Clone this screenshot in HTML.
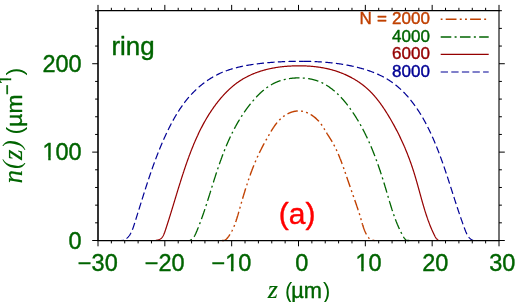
<!DOCTYPE html>
<html><head><meta charset="utf-8"><title>n(z) ring</title>
<style>
html,body{margin:0;padding:0;background:#fff;}
body{width:529px;height:302px;overflow:hidden;}
svg{display:block;will-change:transform;}
text{font-family:"Liberation Sans",sans-serif;stroke-width:0.4px;stroke-linejoin:round;}
.it{font-family:"Liberation Serif",serif;font-style:italic;}
</style></head><body>
<svg width="529" height="302" viewBox="0 0 529 302">
<rect x="0" y="0" width="529" height="302" fill="#fff"/>
<g fill="none" stroke-width="1.40" stroke-linejoin="round">
<path d="M221.19 240.50 L221.59 240.50 L221.97 240.50 L222.36 240.50 L222.73 240.50 L223.10 240.50 L223.45 240.50 L223.80 240.50 L224.13 240.43 L224.46 240.31 L224.77 240.17 L225.07 240.01 L225.36 239.84 L225.64 239.65 L225.90 239.45 L226.16 239.23 L226.42 239.00 L226.66 238.76 L226.90 238.52 L227.13 238.26 L227.36 238.00 L227.58 237.74 L227.79 237.46 L228.01 237.19 L228.22 236.91 L228.43 236.63 L228.64 236.35 L228.84 236.07 L229.04 235.79 L229.24 235.50 L229.43 235.21 L229.63 234.92 L229.82 234.62 L230.01 234.33 L230.19 234.03 L230.37 233.73 L230.56 233.43 L230.73 233.13 L230.91 232.82 L231.09 232.52 L231.26 232.21 L231.43 231.90 L231.60 231.59 L231.76 231.28 L231.93 230.96 L232.09 230.64 L232.25 230.33 L232.40 230.01 L232.56 229.69 L232.71 229.36 L232.87 229.04 L233.02 228.71 L233.17 228.39 L233.31 228.06 L233.46 227.73 L233.60 227.40 L233.74 227.07 L233.88 226.73 L234.02 226.40 L234.16 226.06 L234.29 225.72 L234.43 225.39 L234.56 225.05 L234.69 224.71 L234.82 224.36 L234.95 224.02 L235.08 223.68 L235.20 223.33 L235.33 222.99 L235.45 222.64 L235.57 222.30 L235.69 221.95 L235.81 221.60 L235.93 221.25 L236.05 220.90 L236.16 220.55 L236.28 220.19 L236.40 219.84 L236.51 219.49 L236.62 219.13 L236.73 218.78 L236.85 218.43 L236.96 218.07 L237.07 217.71 L237.18 217.36 L237.28 217.00 L237.39 216.64 L237.50 216.28 L237.61 215.93 L237.71 215.57 L237.82 215.21 L237.92 214.85 L238.03 214.49 L238.13 214.13 L238.24 213.77 L238.34 213.41 L238.44 213.05 L238.55 212.69 L238.65 212.33 L238.75 211.97 L238.85 211.61 L238.96 211.25 L239.06 210.89 L239.16 210.53 L239.26 210.17 L239.37 209.81 L239.47 209.45 L239.57 209.09 L239.67 208.73 L239.77 208.37 L239.88 208.01 L239.98 207.65 L240.08 207.29 L240.18 206.93 L240.29 206.57 L240.39 206.21 L240.49 205.85 L240.59 205.50 L240.70 205.14 L240.80 204.78 L240.90 204.42 L241.01 204.06 L241.11 203.70 L241.21 203.35 L241.31 202.99 L241.42 202.63 L241.52 202.27 L241.63 201.92 L241.73 201.56 L241.83 201.20 L241.94 200.85 L242.04 200.49 L242.14 200.13 L242.25 199.78 L242.35 199.42 L242.46 199.07 L242.56 198.71 L242.67 198.35 L242.77 198.00 L242.88 197.64 L242.98 197.29 L243.09 196.93 L243.19 196.58 L243.30 196.22 L243.40 195.87 L243.51 195.51 L243.62 195.16 L243.72 194.80 L243.83 194.45 L243.94 194.10 L244.04 193.74 L244.15 193.39 L244.26 193.04 L244.36 192.68 L244.47 192.33 L244.58 191.98 L244.69 191.62 L244.80 191.27 L244.90 190.92 L245.01 190.57 L245.12 190.21 L245.23 189.86 L245.34 189.51 L245.45 189.16 L245.56 188.81 L245.67 188.46 L245.78 188.11 L245.89 187.75 L246.00 187.40 L246.11 187.05 L246.23 186.70 L246.34 186.35 L246.45 186.00 L246.56 185.65 L246.67 185.30 L246.79 184.95 L246.90 184.60 L247.01 184.25 L247.13 183.91 L247.24 183.56 L247.36 183.21 L247.47 182.86 L247.59 182.51 L247.70 182.16 L247.82 181.82 L247.93 181.47 L248.05 181.12 L248.17 180.77 L248.28 180.43 L248.40 180.08 L248.52 179.73 L248.64 179.39 L248.76 179.04 L248.87 178.69 L248.99 178.35 L249.11 178.00 L249.23 177.66 L249.35 177.31 L249.47 176.97 L249.59 176.62 L249.72 176.28 L249.84 175.93 L249.96 175.59 L250.08 175.24 L250.21 174.90 L250.33 174.56 L250.45 174.21 L250.58 173.87 L250.70 173.53 L250.83 173.18 L250.95 172.84 L251.08 172.50 L251.21 172.15 L251.33 171.81 L251.46 171.47 L251.59 171.13 L251.72 170.79 L251.84 170.45 L251.97 170.10 L252.10 169.76 L252.23 169.42 L252.36 169.08 L252.49 168.74 L252.63 168.40 L252.76 168.06 L252.89 167.72 L253.02 167.38 L253.16 167.04 L253.29 166.71 L253.43 166.37 L253.56 166.03 L253.70 165.69 L253.83 165.35 L253.97 165.01 L254.11 164.68 L254.24 164.34 L254.38 164.00 L254.52 163.67 L254.66 163.33 L254.80 162.99 L254.94 162.66 L255.08 162.32 L255.22 161.98 L255.36 161.65 L255.51 161.31 L255.65 160.98 L255.79 160.64 L255.94 160.31 L256.08 159.97 L256.23 159.64 L256.37 159.31 L256.52 158.97 L256.67 158.64 L256.81 158.31 L256.96 157.97 L257.11 157.64 L257.26 157.31 L257.41 156.98 L257.56 156.64 L257.71 156.31 L257.87 155.98 L258.02 155.65 L258.17 155.32 L258.33 154.99 L258.48 154.66 L258.64 154.33 L258.79 154.00 L258.95 153.67 L259.11 153.34 L259.26 153.01 L259.42 152.68 L259.58 152.35 L259.74 152.02 L259.90 151.69 L260.06 151.37 L260.22 151.04 L260.39 150.71 L260.55 150.38 L260.71 150.06 L260.88 149.73 L261.04 149.40 L261.21 149.08 L261.37 148.75 L261.54 148.43 L261.71 148.10 L261.88 147.77 L262.04 147.45 L262.21 147.12 L262.38 146.80 L262.55 146.47 L262.72 146.15 L262.89 145.83 L263.07 145.50 L263.24 145.18 L263.41 144.85 L263.58 144.53 L263.76 144.21 L263.93 143.88 L264.11 143.56 L264.28 143.24 L264.46 142.92 L264.63 142.59 L264.81 142.27 L264.99 141.95 L265.16 141.63 L265.34 141.30 L265.52 140.98 L265.70 140.66 L265.88 140.34 L266.06 140.02 L266.24 139.70 L266.42 139.38 L266.60 139.06 L266.78 138.73 L266.96 138.41 L267.14 138.09 L267.32 137.77 L267.51 137.45 L267.69 137.13 L267.87 136.81 L268.06 136.49 L268.24 136.17 L268.42 135.85 L268.61 135.53 L268.79 135.22 L268.98 134.90 L269.16 134.58 L269.35 134.26 L269.54 133.94 L269.72 133.62 L269.91 133.30 L270.10 132.98 L270.28 132.66 L270.47 132.35 L270.66 132.03 L270.85 131.71 L271.04 131.39 L271.23 131.08 L271.42 130.76 L271.61 130.45 L271.81 130.13 L272.00 129.82 L272.19 129.50 L272.39 129.19 L272.59 128.88 L272.78 128.57 L272.98 128.26 L273.18 127.95 L273.38 127.64 L273.59 127.34 L273.79 127.03 L274.00 126.73 L274.20 126.42 L274.41 126.12 L274.62 125.82 L274.83 125.52 L275.05 125.22 L275.26 124.93 L275.48 124.63 L275.70 124.34 L275.92 124.05 L276.14 123.76 L276.36 123.47 L276.59 123.18 L276.82 122.90 L277.05 122.62 L277.28 122.33 L277.51 122.06 L277.75 121.78 L277.99 121.50 L278.23 121.23 L278.47 120.96 L278.72 120.69 L278.97 120.43 L279.22 120.16 L279.47 119.90 L279.73 119.64 L279.99 119.38 L280.25 119.13 L280.52 118.88 L280.78 118.63 L281.05 118.38 L281.33 118.14 L281.60 117.90 L281.88 117.66 L282.17 117.43 L282.45 117.19 L282.74 116.96 L283.03 116.74 L283.33 116.51 L283.63 116.29 L283.93 116.08 L284.23 115.86 L284.54 115.65 L284.85 115.45 L285.17 115.24 L285.48 115.04 L285.80 114.85 L286.12 114.65 L286.45 114.47 L286.78 114.28 L287.10 114.10 L287.44 113.92 L287.77 113.75 L288.10 113.58 L288.44 113.42 L288.78 113.26 L289.12 113.11 L289.47 112.96 L289.81 112.81 L290.16 112.67 L290.50 112.53 L290.85 112.40 L291.20 112.28 L291.56 112.16 L291.91 112.04 L292.26 111.93 L292.62 111.83 L292.98 111.73 L293.33 111.63 L293.69 111.54 L294.05 111.46 L294.41 111.38 L294.77 111.31 L295.13 111.25 L295.49 111.19 L295.85 111.14 L296.21 111.09 L296.57 111.05 L296.93 111.01 L297.30 110.98 L297.66 110.96 L298.02 110.95 L298.38 110.94 L298.74 110.94 L299.10 110.94 L299.46 110.95 L299.82 110.97 L300.18 111.00 L300.53 111.03 L300.89 111.07 L301.25 111.11 L301.60 111.16 L301.96 111.22 L302.31 111.28 L302.67 111.35 L303.02 111.42 L303.37 111.50 L303.72 111.59 L304.07 111.68 L304.42 111.77 L304.77 111.88 L305.11 111.98 L305.46 112.10 L305.80 112.22 L306.15 112.34 L306.49 112.47 L306.83 112.60 L307.17 112.74 L307.50 112.89 L307.84 113.04 L308.17 113.19 L308.51 113.35 L308.84 113.51 L309.17 113.68 L309.49 113.85 L309.82 114.03 L310.14 114.21 L310.47 114.39 L310.79 114.58 L311.11 114.78 L311.42 114.97 L311.74 115.18 L312.05 115.38 L312.36 115.59 L312.67 115.80 L312.97 116.02 L313.28 116.24 L313.58 116.46 L313.88 116.69 L314.18 116.92 L314.47 117.16 L314.76 117.39 L315.05 117.63 L315.34 117.88 L315.62 118.12 L315.91 118.37 L316.19 118.62 L316.46 118.88 L316.74 119.14 L317.01 119.40 L317.28 119.66 L317.54 119.92 L317.80 120.19 L318.06 120.46 L318.32 120.73 L318.58 121.01 L318.83 121.29 L319.07 121.56 L319.32 121.84 L319.56 122.13 L319.80 122.41 L320.03 122.70 L320.26 122.98 L320.49 123.27 L320.72 123.56 L320.94 123.86 L321.15 124.15 L321.37 124.44 L321.58 124.74 L321.79 125.04 L322.00 125.34 L322.20 125.64 L322.40 125.94 L322.60 126.24 L322.80 126.54 L323.00 126.85 L323.19 127.15 L323.38 127.46 L323.58 127.76 L323.77 128.07 L323.95 128.38 L324.14 128.69 L324.33 129.00 L324.51 129.31 L324.70 129.62 L324.88 129.93 L325.07 130.24 L325.25 130.55 L325.44 130.86 L325.62 131.18 L325.81 131.49 L325.99 131.80 L326.18 132.11 L326.36 132.43 L326.55 132.74 L326.74 133.05 L326.92 133.37 L327.11 133.68 L327.31 133.99 L327.50 134.31 L327.69 134.62 L327.89 134.93 L328.08 135.24 L328.28 135.56 L328.48 135.87 L328.68 136.18 L328.88 136.49 L329.08 136.80 L329.28 137.12 L329.47 137.43 L329.67 137.74 L329.87 138.06 L330.07 138.37 L330.27 138.68 L330.47 139.00 L330.66 139.31 L330.86 139.63 L331.05 139.94 L331.25 140.26 L331.44 140.58 L331.63 140.89 L331.82 141.21 L332.01 141.53 L332.19 141.85 L332.38 142.17 L332.56 142.49 L332.74 142.81 L332.92 143.13 L333.10 143.45 L333.28 143.77 L333.46 144.09 L333.63 144.42 L333.81 144.74 L333.98 145.06 L334.15 145.39 L334.32 145.71 L334.49 146.04 L334.66 146.36 L334.83 146.69 L334.99 147.02 L335.16 147.35 L335.32 147.67 L335.48 148.00 L335.64 148.33 L335.80 148.66 L335.96 148.99 L336.12 149.32 L336.28 149.65 L336.44 149.98 L336.59 150.31 L336.74 150.64 L336.90 150.97 L337.05 151.31 L337.20 151.64 L337.35 151.97 L337.50 152.31 L337.65 152.64 L337.80 152.97 L337.94 153.31 L338.09 153.64 L338.23 153.98 L338.38 154.32 L338.52 154.65 L338.66 154.99 L338.80 155.32 L338.94 155.66 L339.08 156.00 L339.22 156.34 L339.36 156.68 L339.50 157.01 L339.64 157.35 L339.77 157.69 L339.91 158.03 L340.04 158.37 L340.18 158.71 L340.31 159.05 L340.45 159.39 L340.58 159.73 L340.71 160.07 L340.84 160.42 L340.97 160.76 L341.10 161.10 L341.23 161.44 L341.36 161.78 L341.49 162.13 L341.62 162.47 L341.75 162.81 L341.87 163.16 L342.00 163.50 L342.13 163.84 L342.25 164.19 L342.38 164.53 L342.50 164.88 L342.63 165.22 L342.75 165.57 L342.88 165.91 L343.00 166.26 L343.13 166.60 L343.25 166.95 L343.37 167.29 L343.50 167.64 L343.62 167.98 L343.74 168.33 L343.86 168.68 L343.98 169.02 L344.11 169.37 L344.23 169.72 L344.35 170.06 L344.47 170.41 L344.59 170.76 L344.71 171.11 L344.83 171.45 L344.95 171.80 L345.07 172.15 L345.19 172.50 L345.31 172.84 L345.43 173.19 L345.56 173.54 L345.68 173.89 L345.80 174.24 L345.92 174.59 L346.04 174.93 L346.16 175.28 L346.28 175.63 L346.40 175.98 L346.52 176.33 L346.64 176.68 L346.76 177.03 L346.88 177.37 L347.00 177.72 L347.12 178.07 L347.24 178.42 L347.36 178.77 L347.48 179.12 L347.59 179.47 L347.71 179.82 L347.83 180.17 L347.95 180.51 L348.07 180.86 L348.19 181.21 L348.31 181.56 L348.43 181.91 L348.55 182.26 L348.67 182.61 L348.79 182.96 L348.91 183.30 L349.03 183.65 L349.15 184.00 L349.27 184.35 L349.39 184.70 L349.51 185.05 L349.63 185.40 L349.75 185.74 L349.87 186.09 L349.99 186.44 L350.11 186.79 L350.23 187.14 L350.35 187.48 L350.47 187.83 L350.59 188.18 L350.71 188.53 L350.83 188.87 L350.96 189.22 L351.08 189.57 L351.20 189.91 L351.32 190.26 L351.44 190.61 L351.56 190.95 L351.68 191.30 L351.80 191.65 L351.92 191.99 L352.04 192.34 L352.17 192.68 L352.29 193.03 L352.41 193.37 L352.53 193.72 L352.65 194.07 L352.77 194.41 L352.89 194.76 L353.02 195.10 L353.14 195.45 L353.26 195.79 L353.38 196.14 L353.50 196.48 L353.62 196.82 L353.74 197.17 L353.87 197.51 L353.99 197.86 L354.11 198.20 L354.23 198.55 L354.35 198.89 L354.47 199.24 L354.59 199.58 L354.71 199.93 L354.83 200.27 L354.95 200.62 L355.07 200.96 L355.19 201.30 L355.31 201.65 L355.43 201.99 L355.55 202.34 L355.67 202.68 L355.79 203.03 L355.91 203.37 L356.03 203.72 L356.15 204.06 L356.27 204.41 L356.39 204.75 L356.51 205.10 L356.62 205.45 L356.74 205.79 L356.86 206.14 L356.98 206.48 L357.09 206.83 L357.21 207.18 L357.33 207.52 L357.44 207.87 L357.56 208.22 L357.67 208.56 L357.79 208.91 L357.90 209.26 L358.02 209.61 L358.13 209.95 L358.25 210.30 L358.36 210.65 L358.47 211.00 L358.59 211.35 L358.70 211.70 L358.81 212.04 L358.92 212.39 L359.04 212.74 L359.15 213.09 L359.26 213.44 L359.37 213.79 L359.48 214.14 L359.59 214.50 L359.70 214.85 L359.81 215.20 L359.91 215.55 L360.02 215.90 L360.13 216.26 L360.23 216.61 L360.34 216.96 L360.45 217.32 L360.55 217.67 L360.66 218.02 L360.76 218.38 L360.86 218.73 L360.97 219.09 L361.07 219.44 L361.17 219.80 L361.28 220.16 L361.38 220.51 L361.48 220.87 L361.58 221.23 L361.68 221.58 L361.79 221.94 L361.89 222.30 L361.99 222.65 L362.10 223.01 L362.20 223.37 L362.30 223.72 L362.41 224.08 L362.52 224.43" stroke="#c04000" stroke-width="1.40" stroke-dasharray="10.8 3.3 1.9 3.3 1.9 3.2" stroke-dashoffset="23.71"/>
<path d="M362.52 224.43 L362.62 224.79 L362.73 225.14 L362.84 225.50 L362.95 225.85 L363.07 226.20 L363.18 226.55 L363.30 226.91 L363.41 227.26 L363.53 227.61 L363.65 227.95 L363.77 228.30 L363.90 228.65 L364.03 229.00 L364.15 229.34 L364.29 229.68 L364.42 230.03 L364.55 230.37 L364.69 230.71 L364.83 231.05 L364.98 231.39 L365.12 231.72 L365.27 232.06 L365.43 232.39 L365.58 232.72 L365.74 233.05 L365.90 233.38 L366.07 233.71 L366.24 234.03 L366.41 234.36 L366.59 234.68 L366.77 235.00 L366.95 235.31 L367.14 235.63 L367.34 235.93 L367.54 236.24 L367.74 236.54 L367.95 236.83 L368.17 237.11 L368.39 237.39 L368.62 237.66 L368.86 237.92 L369.10 238.17 L369.35 238.40 L369.61 238.63 L369.88 238.85 L370.16 239.05 L370.44 239.24 L370.74 239.41 L371.04 239.57 L371.36 239.72 L371.68 239.85 L372.01 239.97 L372.35 240.07 L372.70 240.17 L373.05 240.25 L373.41 240.34 L373.78 240.41 L374.14 240.45 L374.52 240.48 L374.90 240.50 L375.28 240.50 L375.66 240.50" stroke="#c04000" stroke-width="1.40" stroke-dasharray="10.8 3.3 1.9 3.3 1.9 3.2" stroke-dashoffset="0.00"/>
<path d="M187.80 240.50 L188.29 240.50 L188.76 240.50 L189.22 240.50 L189.66 240.40 L190.07 240.25 L190.48 240.03 L190.86 239.82 L191.23 239.60 L191.58 239.36 L191.92 239.10 L192.25 238.83 L192.56 238.54 L192.86 238.23 L193.15 237.91 L193.43 237.57 L193.70 237.22 L193.95 236.86 L194.20 236.49 L194.44 236.10 L194.67 235.71 L194.89 235.31 L195.11 234.90 L195.32 234.48 L195.52 234.06 L195.72 233.63 L195.92 233.20 L196.11 232.76 L196.30 232.32 L196.49 231.88 L196.67 231.43 L196.86 230.99 L197.04 230.54 L197.22 230.10 L197.40 229.65 L197.58 229.21 L197.76 228.76 L197.94 228.32 L198.12 227.87 L198.30 227.43 L198.47 226.98 L198.65 226.53 L198.82 226.09 L198.99 225.64 L199.17 225.19 L199.34 224.75 L199.51 224.30 L199.68 223.85 L199.85 223.40 L200.02 222.96 L200.19 222.51 L200.36 222.06 L200.52 221.61 L200.69 221.16 L200.85 220.71 L201.02 220.26 L201.18 219.81 L201.35 219.36 L201.51 218.91 L201.67 218.47 L201.83 218.02 L201.99 217.57 L202.15 217.11 L202.31 216.66 L202.47 216.21 L202.63 215.76 L202.79 215.31 L202.94 214.86 L203.10 214.41 L203.26 213.96 L203.41 213.51 L203.57 213.06 L203.72 212.60 L203.88 212.15 L204.03 211.70 L204.18 211.25 L204.34 210.80 L204.49 210.34 L204.64 209.89 L204.79 209.44 L204.94 208.99 L205.09 208.53 L205.24 208.08 L205.39 207.63 L205.54 207.17 L205.69 206.72 L205.84 206.27 L205.99 205.81 L206.13 205.36 L206.28 204.91 L206.43 204.45 L206.57 204.00 L206.72 203.55 L206.87 203.09 L207.01 202.64 L207.16 202.18 L207.30 201.73 L207.45 201.28 L207.59 200.82 L207.74 200.37 L207.88 199.91 L208.03 199.46 L208.17 199.01 L208.31 198.55 L208.46 198.10 L208.60 197.64 L208.74 197.19 L208.89 196.73 L209.03 196.28 L209.17 195.82 L209.31 195.37 L209.45 194.91 L209.60 194.46 L209.74 194.00 L209.88 193.55 L210.02 193.10 L210.16 192.64 L210.31 192.19 L210.45 191.73 L210.59 191.28 L210.73 190.82 L210.87 190.37 L211.01 189.91 L211.16 189.46 L211.30 189.00 L211.44 188.55 L211.58 188.09 L211.72 187.64 L211.86 187.18 L212.00 186.73 L212.15 186.27 L212.29 185.82 L212.43 185.37 L212.57 184.91 L212.71 184.46 L212.86 184.00 L213.00 183.55 L213.14 183.09 L213.28 182.64 L213.43 182.19 L213.57 181.73 L213.71 181.28 L213.85 180.82 L214.00 180.37 L214.14 179.92 L214.29 179.46 L214.43 179.01 L214.57 178.55 L214.72 178.10 L214.86 177.65 L215.01 177.19 L215.15 176.74 L215.30 176.29 L215.44 175.83 L215.59 175.38 L215.74 174.93 L215.88 174.48 L216.03 174.02 L216.18 173.57 L216.33 173.12 L216.47 172.67 L216.62 172.21 L216.77 171.76 L216.92 171.31 L217.07 170.86 L217.22 170.40 L217.37 169.95 L217.52 169.50 L217.67 169.05 L217.83 168.60 L217.98 168.15 L218.13 167.70 L218.28 167.25 L218.44 166.80 L218.59 166.35 L218.75 165.90 L218.90 165.45 L219.06 165.00 L219.21 164.55 L219.37 164.10 L219.53 163.65 L219.68 163.20 L219.84 162.75 L220.00 162.30 L220.16 161.85 L220.32 161.40 L220.48 160.96 L220.64 160.51 L220.80 160.06 L220.96 159.61 L221.13 159.17 L221.29 158.72 L221.45 158.27 L221.62 157.83 L221.78 157.38 L221.95 156.93 L222.11 156.49 L222.28 156.04 L222.45 155.60 L222.61 155.15 L222.78 154.71 L222.95 154.26 L223.12 153.82 L223.29 153.38 L223.46 152.93 L223.64 152.49 L223.81 152.05 L223.98 151.61 L224.16 151.16 L224.33 150.72 L224.51 150.28 L224.68 149.84 L224.86 149.40 L225.04 148.96 L225.21 148.52 L225.39 148.08 L225.57 147.64 L225.75 147.20 L225.94 146.76 L226.12 146.33 L226.30 145.89 L226.48 145.45 L226.67 145.01 L226.85 144.58 L227.04 144.14 L227.23 143.70 L227.41 143.27 L227.60 142.83 L227.79 142.40 L227.98 141.97 L228.17 141.53 L228.37 141.10 L228.56 140.67 L228.75 140.23 L228.95 139.80 L229.14 139.37 L229.34 138.94 L229.54 138.51 L229.73 138.08 L229.93 137.65 L230.13 137.22 L230.33 136.79 L230.53 136.36 L230.74 135.93 L230.94 135.51 L231.15 135.08 L231.35 134.65 L231.56 134.23 L231.77 133.80 L231.97 133.38 L232.18 132.95 L232.39 132.53 L232.61 132.11 L232.82 131.68 L233.03 131.26 L233.25 130.84 L233.46 130.42 L233.68 130.00 L233.90 129.58 L234.12 129.16 L234.33 128.74 L234.56 128.32 L234.78 127.90 L235.00 127.48 L235.22 127.07 L235.45 126.65 L235.68 126.24 L235.90 125.82 L236.13 125.41 L236.36 124.99 L236.59 124.58 L236.82 124.17 L237.06 123.75 L237.29 123.34 L237.53 122.93 L237.76 122.52 L238.00 122.11 L238.24 121.70 L238.48 121.30 L238.72 120.89 L238.96 120.48 L239.21 120.08 L239.45 119.67 L239.70 119.26 L239.94 118.86 L240.19 118.46 L240.44 118.05 L240.69 117.65 L240.95 117.25 L241.20 116.85 L241.45 116.45 L241.71 116.05 L241.97 115.65 L242.22 115.25 L242.48 114.85 L242.75 114.46 L243.01 114.06 L243.27 113.67 L243.54 113.27 L243.80 112.88 L244.07 112.48 L244.34 112.09 L244.61 111.70 L244.88 111.31 L245.16 110.92 L245.43 110.53 L245.71 110.14 L245.98 109.75 L246.26 109.37 L246.54 108.98 L246.82 108.59 L247.11 108.21 L247.39 107.83 L247.67 107.44 L247.96 107.06 L248.25 106.68 L248.54 106.30 L248.83 105.92 L249.12 105.54 L249.42 105.16 L249.71 104.78 L250.01 104.41 L250.31 104.03 L250.61 103.65 L250.91 103.28 L251.22 102.91 L251.52 102.53 L251.83 102.16 L252.13 101.79 L252.44 101.42 L252.75 101.05 L253.07 100.69 L253.38 100.32 L253.70 99.96 L254.01 99.59 L254.33 99.23 L254.65 98.87 L254.98 98.51 L255.30 98.15 L255.62 97.80 L255.95 97.44 L256.28 97.09 L256.61 96.74 L256.94 96.39 L257.28 96.04 L257.61 95.69 L257.95 95.35 L258.29 95.01 L258.63 94.67 L258.97 94.33 L259.32 94.00 L259.66 93.66 L260.01 93.33 L260.36 93.00 L260.71 92.68 L261.06 92.35 L261.42 92.03 L261.78 91.71 L262.13 91.39 L262.50 91.08 L262.86 90.77 L263.22 90.46 L263.59 90.16 L263.96 89.85 L264.33 89.55 L264.70 89.26 L265.07 88.96 L265.45 88.67 L265.83 88.38 L266.21 88.10 L266.59 87.82 L266.97 87.54 L267.36 87.27 L267.75 87.00 L268.14 86.73 L268.53 86.46 L268.92 86.20 L269.32 85.95 L269.72 85.69 L270.12 85.44 L270.52 85.20 L270.93 84.95 L271.33 84.72 L271.74 84.48 L272.15 84.25 L272.57 84.02 L272.98 83.80 L273.40 83.58 L273.82 83.37 L274.24 83.16 L274.67 82.96 L275.09 82.75 L275.52 82.56 L275.95 82.37 L276.38 82.18 L276.82 81.99 L277.26 81.82 L277.70 81.64 L278.14 81.47 L278.58 81.30 L279.02 81.14 L279.47 80.98 L279.92 80.83 L280.37 80.68 L280.82 80.53 L281.27 80.39 L281.73 80.25 L282.18 80.12 L282.64 79.99 L283.10 79.87 L283.56 79.75 L284.02 79.63 L284.49 79.52 L284.95 79.41 L285.42 79.30 L285.88 79.20 L286.35 79.10 L286.82 79.01 L287.29 78.92 L287.76 78.84 L288.23 78.75 L288.71 78.68 L289.18 78.60 L289.65 78.53 L290.13 78.47 L290.60 78.40 L291.08 78.34 L291.56 78.29 L292.04 78.24 L292.51 78.19 L292.99 78.14 L293.47 78.10 L293.95 78.07 L294.43 78.03 L294.91 78.00 L295.39 77.98 L295.87 77.95 L296.35 77.93 L296.83 77.92 L297.31 77.91 L297.80 77.90 L298.28 77.89 L298.76 77.89 L299.24 77.89 L299.72 77.90 L300.20 77.90 L300.68 77.92 L301.16 77.93 L301.64 77.95 L302.12 77.97 L302.60 78.00 L303.07 78.03 L303.55 78.06 L304.03 78.10 L304.51 78.14 L304.98 78.19 L305.46 78.23 L305.93 78.29 L306.41 78.34 L306.88 78.40 L307.35 78.47 L307.83 78.53 L308.30 78.60 L308.77 78.68 L309.24 78.76 L309.71 78.84 L310.17 78.93 L310.64 79.02 L311.11 79.12 L311.57 79.22 L312.04 79.32 L312.50 79.43 L312.96 79.54 L313.42 79.66 L313.88 79.78 L314.33 79.90 L314.79 80.03 L315.25 80.17 L315.70 80.31 L316.15 80.45 L316.60 80.59 L317.05 80.75 L317.50 80.90 L317.94 81.06 L318.39 81.23 L318.83 81.40 L319.27 81.57 L319.71 81.75 L320.15 81.93 L320.58 82.12 L321.02 82.31 L321.45 82.51 L321.88 82.71 L322.30 82.92 L322.73 83.13 L323.15 83.35 L323.58 83.57 L324.00 83.79 L324.41 84.02 L324.83 84.25 L325.24 84.49 L325.66 84.73 L326.07 84.98 L326.47 85.23 L326.88 85.48 L327.28 85.74 L327.68 86.00 L328.08 86.26 L328.48 86.53 L328.87 86.80 L329.27 87.07 L329.66 87.35 L330.05 87.62 L330.43 87.91 L330.82 88.19 L331.20 88.48 L331.58 88.77 L331.96 89.06 L332.33 89.35 L332.71 89.65 L333.08 89.95 L333.45 90.25 L333.81 90.55 L334.18 90.86 L334.54 91.17 L334.90 91.48 L335.26 91.79 L335.62 92.11 L335.97 92.43 L336.32 92.75 L336.68 93.07 L337.02 93.39 L337.37 93.72 L337.72 94.05 L338.06 94.38 L338.40 94.71 L338.74 95.04 L339.08 95.38 L339.41 95.72 L339.75 96.06 L340.08 96.40 L340.41 96.74 L340.74 97.09 L341.06 97.43 L341.39 97.78 L341.71 98.13 L342.03 98.48 L342.35 98.84 L342.67 99.19 L342.99 99.55 L343.30 99.91 L343.61 100.27 L343.92 100.63 L344.23 100.99 L344.54 101.36 L344.85 101.72 L345.15 102.09 L345.45 102.46 L345.76 102.83 L346.06 103.20 L346.35 103.57 L346.65 103.95 L346.95 104.32 L347.24 104.70 L347.53 105.07 L347.82 105.45 L348.11 105.83 L348.40 106.21 L348.69 106.59 L348.97 106.98 L349.26 107.36 L349.54 107.75 L349.82 108.13 L350.10 108.52 L350.38 108.91 L350.65 109.29 L350.93 109.68 L351.20 110.07 L351.48 110.46 L351.75 110.85 L352.02 111.25 L352.29 111.64 L352.56 112.03 L352.82 112.43 L353.09 112.82 L353.35 113.22 L353.62 113.61 L353.88 114.01 L354.14 114.41 L354.40 114.80 L354.66 115.20 L354.92 115.60 L355.17 116.00 L355.43 116.40 L355.68 116.80 L355.93 117.20 L356.19 117.61 L356.44 118.01 L356.69 118.41 L356.93 118.82 L357.18 119.22 L357.43 119.63 L357.67 120.03 L357.92 120.44 L358.16 120.85 L358.40 121.25 L358.64 121.66 L358.88 122.07 L359.12 122.48 L359.35 122.89 L359.59 123.30 L359.82 123.71 L360.06 124.13 L360.29 124.54 L360.52 124.95 L360.75 125.36 L360.98 125.78 L361.21 126.19 L361.44 126.61 L361.67 127.02 L361.89 127.44 L362.12 127.86 L362.34 128.27 L362.56 128.69 L362.78 129.11 L363.01 129.53 L363.23 129.95 L363.44 130.37 L363.66 130.79 L363.88 131.21 L364.09 131.63 L364.31 132.05 L364.52 132.48 L364.74 132.90 L364.95 133.32 L365.16 133.75 L365.37 134.17 L365.58 134.60 L365.79 135.02 L365.99 135.45 L366.20 135.87 L366.40 136.30 L366.61 136.73 L366.81 137.16 L367.02 137.58 L367.22 138.01 L367.42 138.44 L367.62 138.87 L367.82 139.30 L368.02 139.73 L368.21 140.16 L368.41 140.60 L368.61 141.03 L368.80 141.46 L369.00 141.89 L369.19 142.33 L369.38 142.76 L369.57 143.19 L369.76 143.63 L369.95 144.06 L370.14 144.50 L370.33 144.93 L370.52 145.37 L370.71 145.81 L370.89 146.24 L371.08 146.68 L371.26 147.12 L371.45 147.56 L371.63 147.99 L371.81 148.43 L371.99 148.87 L372.18 149.31 L372.36 149.75 L372.54 150.19 L372.71 150.63 L372.89 151.07 L373.07 151.51 L373.25 151.96 L373.42 152.40 L373.60 152.84 L373.77 153.28 L373.95 153.73 L374.12 154.17 L374.29 154.61 L374.46 155.06 L374.63 155.50 L374.80 155.95 L374.97 156.39 L375.14 156.84 L375.31 157.28 L375.48 157.73 L375.65 158.17 L375.81 158.62 L375.98 159.07 L376.14 159.52 L376.31 159.96 L376.47 160.41 L376.64 160.86 L376.80 161.31 L376.96 161.76 L377.12 162.20 L377.29 162.65 L377.45 163.10 L377.61 163.55 L377.77 164.00 L377.93 164.45 L378.08 164.90 L378.24 165.35 L378.40 165.80 L378.56 166.26 L378.71 166.71 L378.87 167.16 L379.02 167.61 L379.18 168.06 L379.33 168.51 L379.49 168.97 L379.64 169.42 L379.79 169.87 L379.94 170.33 L380.10 170.78 L380.25 171.23 L380.40 171.69 L380.55 172.14 L380.70 172.60 L380.85 173.05 L381.00 173.50 L381.15 173.96 L381.30 174.41 L381.44 174.87 L381.59 175.32 L381.74 175.78 L381.88 176.24 L382.03 176.69 L382.18 177.15 L382.32 177.60 L382.47 178.06 L382.61 178.52 L382.75 178.97 L382.90 179.43 L383.04 179.89 L383.19 180.34 L383.33 180.80 L383.47 181.26 L383.61 181.72 L383.75 182.17 L383.90 182.63 L384.04 183.09 L384.18 183.55 L384.32 184.01 L384.46 184.46 L384.60 184.92 L384.74 185.38 L384.88 185.84 L385.02 186.30 L385.15 186.76 L385.29 187.21 L385.43 187.67 L385.57 188.13 L385.71 188.59 L385.84 189.05 L385.98 189.51 L386.12 189.97 L386.25 190.43 L386.39 190.89 L386.53 191.35 L386.66 191.81 L386.80 192.27 L386.93 192.73 L387.07 193.19 L387.20 193.64 L387.34 194.10 L387.47 194.56 L387.61 195.02 L387.74 195.48 L387.88 195.94 L388.01 196.40 L388.15 196.86 L388.28 197.32 L388.42 197.78 L388.55 198.24 L388.69 198.70 L388.83 199.16 L388.96 199.61 L389.10 200.07 L389.23 200.53 L389.37 200.99 L389.51 201.45 L389.64 201.91 L389.78 202.36 L389.92 202.82 L390.06 203.28 L390.20 203.73 L390.33 204.19 L390.47 204.65 L390.61 205.10 L390.75 205.56 L390.89 206.02 L391.03 206.47 L391.18 206.93 L391.32 207.38 L391.46 207.83 L391.60 208.29 L391.75 208.74 L391.89 209.20 L392.04 209.65 L392.18 210.10 L392.33 210.55 L392.48 211.00 L392.63 211.46 L392.78 211.91 L392.93 212.36 L393.08 212.81 L393.23 213.26 L393.38 213.71 L393.53 214.15 L393.69 214.60 L393.84 215.05 L394.00 215.50 L394.15 215.94 L394.31 216.39 L394.47 216.83 L394.63 217.28 L394.79 217.72 L394.96 218.17 L395.12 218.61 L395.28 219.05 L395.45 219.49 L395.62 219.94 L395.78 220.38 L395.95 220.82 L396.12 221.26 L396.30 221.69 L396.47 222.13 L396.64 222.57 L396.82 223.01 L397.00 223.44 L397.18 223.88 L397.35 224.31 L397.54 224.74 L397.72 225.18 L397.90 225.61 L398.09 226.04 L398.28 226.47 L398.47 226.90 L398.66 227.33 L398.85 227.76 L399.04 228.18 L399.24 228.61 L399.43 229.04 L399.63 229.46 L399.83 229.88 L400.04 230.31 L400.24 230.73 L400.44 231.15 L400.65 231.57 L400.86 231.99 L401.07 232.41 L401.29 232.83 L401.50 233.24 L401.72 233.66 L401.94 234.07 L402.16 234.48 L402.38 234.90 L402.60 235.31 L402.83 235.72 L403.06 236.13 L403.29 236.53 L403.53 236.94 L403.77 237.33 L404.02 237.72 L404.28 238.10 L404.55 238.46 L404.83 238.81 L405.13 239.13 L405.44 239.44 L405.77 239.73 L406.12 239.99 L406.48 240.22 L406.88 240.44 L407.29 240.50 L407.73 240.50 L408.20 240.50 L408.69 240.50 L409.19 240.50" stroke="#006400" stroke-width="1.30" stroke-dasharray="10.6 3.3 2 3.35" stroke-dashoffset="11.68"/>
<path d="M153.96 240.50 L154.59 240.50 L155.22 240.49 L155.85 240.44 L156.47 240.35 L157.07 240.22 L157.67 240.10 L158.24 239.94 L158.79 239.76 L159.31 239.55 L159.80 239.32 L160.26 239.05 L160.69 238.75 L161.10 238.43 L161.48 238.08 L161.83 237.71 L162.16 237.32 L162.48 236.90 L162.77 236.47 L163.04 236.02 L163.30 235.56 L163.55 235.08 L163.78 234.59 L163.99 234.09 L164.20 233.57 L164.40 233.05 L164.60 232.53 L164.78 232.00 L164.97 231.46 L165.15 230.92 L165.33 230.38 L165.51 229.85 L165.68 229.31 L165.86 228.77 L166.04 228.23 L166.22 227.69 L166.39 227.15 L166.57 226.61 L166.74 226.08 L166.92 225.54 L167.09 225.00 L167.27 224.46 L167.44 223.92 L167.62 223.38 L167.79 222.84 L167.96 222.30 L168.13 221.76 L168.30 221.22 L168.48 220.68 L168.65 220.14 L168.82 219.60 L168.99 219.06 L169.16 218.52 L169.33 217.98 L169.49 217.44 L169.66 216.90 L169.83 216.36 L170.00 215.82 L170.17 215.28 L170.34 214.74 L170.50 214.20 L170.67 213.66 L170.84 213.12 L171.00 212.58 L171.17 212.04 L171.34 211.50 L171.50 210.96 L171.67 210.42 L171.83 209.87 L172.00 209.33 L172.16 208.79 L172.33 208.25 L172.49 207.71 L172.66 207.17 L172.82 206.63 L172.99 206.09 L173.15 205.55 L173.31 205.01 L173.48 204.47 L173.64 203.93 L173.81 203.39 L173.97 202.85 L174.13 202.31 L174.30 201.77 L174.46 201.23 L174.62 200.69 L174.79 200.15 L174.95 199.61 L175.11 199.07 L175.28 198.53 L175.44 197.99 L175.61 197.45 L175.77 196.91 L175.93 196.37 L176.10 195.83 L176.26 195.29 L176.42 194.75 L176.59 194.22 L176.75 193.68 L176.92 193.14 L177.08 192.60 L177.24 192.06 L177.41 191.52 L177.57 190.98 L177.74 190.44 L177.90 189.91 L178.07 189.37 L178.23 188.83 L178.40 188.29 L178.57 187.75 L178.73 187.22 L178.90 186.68 L179.06 186.14 L179.23 185.60 L179.40 185.07 L179.56 184.53 L179.73 183.99 L179.90 183.45 L180.07 182.92 L180.23 182.38 L180.40 181.85 L180.57 181.31 L180.74 180.77 L180.91 180.24 L181.08 179.70 L181.25 179.17 L181.42 178.63 L181.59 178.10 L181.76 177.56 L181.93 177.03 L182.11 176.49 L182.28 175.96 L182.45 175.42 L182.62 174.89 L182.80 174.35 L182.97 173.82 L183.15 173.29 L183.32 172.75 L183.50 172.22 L183.67 171.69 L183.85 171.16 L184.02 170.62 L184.20 170.09 L184.38 169.56 L184.56 169.03 L184.74 168.50 L184.92 167.97 L185.10 167.43 L185.28 166.90 L185.46 166.37 L185.64 165.84 L185.82 165.31 L186.01 164.78 L186.19 164.25 L186.37 163.72 L186.56 163.20 L186.74 162.67 L186.93 162.14 L187.12 161.61 L187.30 161.08 L187.49 160.56 L187.68 160.03 L187.87 159.50 L188.06 158.97 L188.25 158.45 L188.44 157.92 L188.64 157.40 L188.83 156.87 L189.02 156.34 L189.22 155.82 L189.41 155.30 L189.61 154.77 L189.81 154.25 L190.00 153.72 L190.20 153.20 L190.40 152.68 L190.60 152.15 L190.80 151.63 L191.01 151.11 L191.21 150.59 L191.41 150.07 L191.62 149.55 L191.82 149.02 L192.03 148.50 L192.24 147.98 L192.45 147.47 L192.66 146.95 L192.87 146.43 L193.08 145.91 L193.29 145.39 L193.50 144.87 L193.72 144.36 L193.93 143.84 L194.15 143.32 L194.37 142.81 L194.58 142.29 L194.80 141.78 L195.03 141.27 L195.25 140.75 L195.47 140.24 L195.69 139.73 L195.92 139.21 L196.15 138.70 L196.37 138.19 L196.60 137.68 L196.83 137.17 L197.06 136.66 L197.30 136.15 L197.53 135.64 L197.77 135.14 L198.00 134.63 L198.24 134.12 L198.48 133.62 L198.72 133.11 L198.96 132.61 L199.20 132.10 L199.45 131.60 L199.69 131.10 L199.94 130.59 L200.19 130.09 L200.44 129.59 L200.69 129.09 L200.94 128.59 L201.20 128.09 L201.45 127.60 L201.71 127.10 L201.97 126.60 L202.23 126.11 L202.49 125.61 L202.75 125.12 L203.01 124.62 L203.28 124.13 L203.55 123.64 L203.82 123.14 L204.09 122.65 L204.36 122.16 L204.63 121.67 L204.91 121.19 L205.19 120.70 L205.47 120.21 L205.75 119.73 L206.03 119.24 L206.31 118.76 L206.60 118.27 L206.88 117.79 L207.17 117.31 L207.46 116.83 L207.76 116.35 L208.05 115.87 L208.35 115.39 L208.64 114.91 L208.94 114.43 L209.25 113.96 L209.55 113.48 L209.85 113.01 L210.16 112.54 L210.47 112.07 L210.78 111.59 L211.09 111.12 L211.41 110.65 L211.72 110.19 L212.04 109.72 L212.36 109.25 L212.68 108.79 L213.01 108.32 L213.33 107.86 L213.66 107.40 L213.99 106.94 L214.32 106.48 L214.66 106.02 L214.99 105.56 L215.33 105.10 L215.67 104.65 L216.02 104.19 L216.36 103.74 L216.71 103.28 L217.06 102.83 L217.41 102.38 L217.76 101.93 L218.11 101.48 L218.47 101.04 L218.83 100.59 L219.19 100.15 L219.56 99.70 L219.92 99.26 L220.29 98.82 L220.66 98.39 L221.03 97.95 L221.41 97.52 L221.78 97.08 L222.16 96.65 L222.54 96.22 L222.92 95.80 L223.31 95.37 L223.69 94.95 L224.08 94.53 L224.47 94.11 L224.87 93.69 L225.26 93.28 L225.66 92.86 L226.06 92.45 L226.46 92.05 L226.86 91.64 L227.27 91.24 L227.67 90.84 L228.08 90.44 L228.50 90.05 L228.91 89.65 L229.33 89.26 L229.74 88.88 L230.16 88.49 L230.59 88.11 L231.01 87.73 L231.44 87.36 L231.86 86.99 L232.29 86.62 L232.73 86.25 L233.16 85.89 L233.60 85.53 L234.04 85.17 L234.48 84.82 L234.92 84.47 L235.36 84.13 L235.81 83.78 L236.26 83.45 L236.71 83.11 L237.16 82.78 L237.62 82.45 L238.08 82.13 L238.54 81.81 L239.00 81.49 L239.46 81.18 L239.93 80.87 L240.39 80.56 L240.86 80.26 L241.33 79.96 L241.81 79.67 L242.28 79.38 L242.76 79.09 L243.24 78.81 L243.72 78.53 L244.20 78.25 L244.68 77.98 L245.17 77.71 L245.66 77.44 L246.15 77.18 L246.64 76.92 L247.13 76.67 L247.63 76.42 L248.12 76.17 L248.62 75.92 L249.12 75.68 L249.62 75.45 L250.12 75.21 L250.63 74.98 L251.13 74.75 L251.64 74.53 L252.15 74.31 L252.66 74.09 L253.17 73.87 L253.69 73.66 L254.20 73.45 L254.72 73.25 L255.23 73.05 L255.75 72.85 L256.27 72.65 L256.79 72.46 L257.32 72.27 L257.84 72.09 L258.37 71.90 L258.89 71.72 L259.42 71.55 L259.95 71.37 L260.48 71.20 L261.01 71.04 L261.54 70.87 L262.08 70.71 L262.61 70.55 L263.15 70.40 L263.69 70.24 L264.22 70.09 L264.76 69.95 L265.30 69.80 L265.84 69.66 L266.39 69.52 L266.93 69.39 L267.47 69.26 L268.02 69.13 L268.56 69.00 L269.11 68.88 L269.66 68.76 L270.21 68.64 L270.76 68.52 L271.31 68.41 L271.86 68.30 L272.41 68.19 L272.96 68.08 L273.51 67.98 L274.07 67.88 L274.62 67.78 L275.18 67.69 L275.73 67.60 L276.29 67.51 L276.85 67.42 L277.40 67.34 L277.96 67.25 L278.52 67.17 L279.08 67.10 L279.64 67.02 L280.20 66.95 L280.76 66.88 L281.32 66.81 L281.88 66.75 L282.45 66.69 L283.01 66.63 L283.57 66.57 L284.13 66.51 L284.70 66.46 L285.26 66.41 L285.82 66.36 L286.39 66.31 L286.95 66.27 L287.52 66.23 L288.08 66.19 L288.65 66.15 L289.21 66.11 L289.78 66.08 L290.35 66.05 L290.91 66.02 L291.48 65.99 L292.04 65.97 L292.61 65.94 L293.18 65.92 L293.74 65.90 L294.31 65.89 L294.87 65.87 L295.44 65.86 L296.01 65.85 L296.57 65.84 L297.14 65.83 L297.70 65.83 L298.27 65.82 L298.84 65.82 L299.40 65.82 L299.97 65.83 L300.53 65.83 L301.10 65.84 L301.66 65.84 L302.22 65.85 L302.79 65.87 L303.35 65.88 L303.92 65.90 L304.48 65.92 L305.04 65.94 L305.61 65.96 L306.17 65.98 L306.73 66.01 L307.29 66.04 L307.85 66.07 L308.42 66.10 L308.98 66.14 L309.54 66.18 L310.10 66.22 L310.66 66.26 L311.22 66.30 L311.78 66.35 L312.34 66.40 L312.90 66.45 L313.45 66.51 L314.01 66.56 L314.57 66.62 L315.13 66.68 L315.68 66.75 L316.24 66.81 L316.80 66.88 L317.35 66.95 L317.91 67.03 L318.46 67.10 L319.01 67.18 L319.57 67.26 L320.12 67.35 L320.67 67.44 L321.23 67.53 L321.78 67.62 L322.33 67.71 L322.88 67.81 L323.43 67.91 L323.98 68.01 L324.53 68.12 L325.07 68.23 L325.62 68.34 L326.17 68.46 L326.72 68.57 L327.26 68.69 L327.81 68.82 L328.35 68.94 L328.90 69.07 L329.44 69.21 L329.98 69.34 L330.52 69.48 L331.06 69.62 L331.61 69.76 L332.15 69.91 L332.68 70.06 L333.22 70.22 L333.76 70.37 L334.30 70.53 L334.84 70.70 L335.37 70.86 L335.91 71.03 L336.44 71.20 L336.97 71.38 L337.51 71.56 L338.04 71.74 L338.57 71.93 L339.10 72.12 L339.63 72.31 L340.16 72.51 L340.69 72.70 L341.21 72.91 L341.74 73.11 L342.26 73.32 L342.79 73.53 L343.31 73.75 L343.83 73.97 L344.35 74.19 L344.87 74.42 L345.39 74.65 L345.90 74.88 L346.42 75.11 L346.93 75.35 L347.44 75.59 L347.96 75.84 L348.46 76.09 L348.97 76.34 L349.48 76.59 L349.98 76.85 L350.49 77.11 L350.99 77.38 L351.49 77.64 L351.98 77.91 L352.48 78.19 L352.98 78.46 L353.47 78.74 L353.96 79.03 L354.45 79.31 L354.93 79.60 L355.42 79.90 L355.90 80.19 L356.38 80.49 L356.86 80.79 L357.34 81.10 L357.81 81.41 L358.28 81.72 L358.75 82.03 L359.22 82.35 L359.68 82.67 L360.14 83.00 L360.60 83.32 L361.06 83.65 L361.52 83.99 L361.97 84.32 L362.42 84.66 L362.87 85.00 L363.31 85.35 L363.75 85.70 L364.19 86.05 L364.63 86.40 L365.06 86.76 L365.49 87.12 L365.92 87.48 L366.34 87.85 L366.77 88.22 L367.19 88.59 L367.60 88.97 L368.01 89.35 L368.42 89.73 L368.83 90.11 L369.24 90.50 L369.64 90.89 L370.04 91.28 L370.43 91.67 L370.83 92.07 L371.22 92.47 L371.60 92.87 L371.99 93.28 L372.37 93.69 L372.75 94.10 L373.13 94.51 L373.51 94.93 L373.88 95.34 L374.25 95.76 L374.62 96.18 L374.98 96.61 L375.34 97.03 L375.70 97.46 L376.06 97.89 L376.42 98.32 L376.77 98.76 L377.12 99.20 L377.47 99.63 L377.82 100.07 L378.17 100.52 L378.51 100.96 L378.85 101.41 L379.19 101.85 L379.53 102.30 L379.86 102.75 L380.19 103.21 L380.52 103.66 L380.85 104.11 L381.18 104.57 L381.51 105.03 L381.83 105.49 L382.15 105.95 L382.47 106.41 L382.79 106.88 L383.11 107.34 L383.42 107.81 L383.74 108.28 L384.05 108.75 L384.36 109.22 L384.67 109.69 L384.98 110.16 L385.28 110.63 L385.59 111.11 L385.89 111.58 L386.19 112.06 L386.49 112.53 L386.79 113.01 L387.09 113.49 L387.39 113.97 L387.68 114.45 L387.98 114.93 L388.27 115.41 L388.56 115.89 L388.85 116.37 L389.14 116.85 L389.43 117.34 L389.72 117.82 L390.01 118.30 L390.29 118.79 L390.57 119.27 L390.86 119.76 L391.14 120.25 L391.42 120.73 L391.70 121.22 L391.98 121.71 L392.26 122.20 L392.53 122.69 L392.81 123.18 L393.08 123.67 L393.35 124.16 L393.62 124.65 L393.89 125.14 L394.16 125.64 L394.43 126.13 L394.70 126.62 L394.97 127.12 L395.23 127.61 L395.49 128.11 L395.76 128.60 L396.02 129.10 L396.28 129.60 L396.54 130.10 L396.80 130.59 L397.05 131.09 L397.31 131.59 L397.56 132.09 L397.82 132.59 L398.07 133.09 L398.32 133.60 L398.57 134.10 L398.82 134.60 L399.07 135.10 L399.32 135.61 L399.56 136.11 L399.81 136.62 L400.05 137.12 L400.29 137.63 L400.53 138.13 L400.77 138.64 L401.01 139.15 L401.25 139.66 L401.49 140.16 L401.72 140.67 L401.96 141.18 L402.19 141.69 L402.42 142.20 L402.66 142.71 L402.89 143.23 L403.11 143.74 L403.34 144.25 L403.57 144.76 L403.80 145.28 L404.02 145.79 L404.24 146.31 L404.47 146.82 L404.69 147.34 L404.91 147.85 L405.13 148.37 L405.34 148.89 L405.56 149.41 L405.78 149.92 L405.99 150.44 L406.21 150.96 L406.42 151.48 L406.63 152.00 L406.84 152.52 L407.05 153.04 L407.26 153.57 L407.46 154.09 L407.67 154.61 L407.88 155.13 L408.08 155.66 L408.28 156.18 L408.48 156.71 L408.68 157.23 L408.88 157.76 L409.08 158.28 L409.28 158.81 L409.48 159.34 L409.67 159.87 L409.86 160.39 L410.06 160.92 L410.25 161.45 L410.44 161.98 L410.63 162.51 L410.82 163.04 L411.01 163.57 L411.19 164.10 L411.38 164.64 L411.56 165.17 L411.74 165.70 L411.93 166.24 L412.11 166.77 L412.29 167.30 L412.47 167.84 L412.64 168.37 L412.82 168.91 L413.00 169.45 L413.17 169.98 L413.34 170.52 L413.52 171.06 L413.69 171.60 L413.86 172.13 L414.03 172.67 L414.19 173.21 L414.36 173.75 L414.53 174.29 L414.69 174.83 L414.86 175.37 L415.02 175.92 L415.18 176.46 L415.34 177.00 L415.50 177.54 L415.66 178.08 L415.82 178.63 L415.98 179.17 L416.14 179.71 L416.30 180.26 L416.45 180.80 L416.61 181.35 L416.77 181.89 L416.92 182.44 L417.07 182.98 L417.23 183.53 L417.38 184.07 L417.53 184.62 L417.69 185.16 L417.84 185.71 L417.99 186.25 L418.14 186.80 L418.29 187.35 L418.44 187.89 L418.60 188.44 L418.75 188.98 L418.90 189.53 L419.05 190.08 L419.20 190.62 L419.35 191.17 L419.50 191.71 L419.65 192.26 L419.80 192.81 L419.95 193.35 L420.10 193.90 L420.25 194.44 L420.40 194.99 L420.55 195.53 L420.70 196.08 L420.85 196.62 L421.00 197.17 L421.15 197.71 L421.30 198.26 L421.45 198.80 L421.60 199.35 L421.76 199.89 L421.91 200.43 L422.06 200.98 L422.22 201.52 L422.37 202.06 L422.53 202.61 L422.68 203.15 L422.84 203.69 L422.99 204.23 L423.15 204.77 L423.31 205.31 L423.47 205.85 L423.63 206.39 L423.79 206.93 L423.95 207.47 L424.11 208.01 L424.27 208.55 L424.43 209.08 L424.60 209.62 L424.76 210.16 L424.93 210.69 L425.09 211.23 L425.26 211.76 L425.43 212.30 L425.60 212.83 L425.77 213.37 L425.94 213.90 L426.12 214.43 L426.29 214.96 L426.47 215.49 L426.64 216.02 L426.82 216.55 L427.00 217.08 L427.18 217.61 L427.36 218.14 L427.55 218.66 L427.73 219.19 L427.92 219.71 L428.11 220.24 L428.29 220.76 L428.49 221.28 L428.68 221.81 L428.87 222.33 L429.07 222.85 L429.26 223.37 L429.46 223.89 L429.66 224.40 L429.86 224.92 L430.07 225.44 L430.27 225.95 L430.48 226.46 L430.69 226.98 L430.90 227.49 L431.11 228.00 L431.33 228.51 L431.55 229.02 L431.76 229.53 L431.99 230.03 L432.21 230.54 L432.43 231.04 L432.66 231.55 L432.89 232.05 L433.12 232.55 L433.35 233.05 L433.59 233.55 L433.83 234.05 L434.07 234.55 L434.31 235.04 L434.56 235.54 L434.81 236.02 L435.07 236.50 L435.34 236.97 L435.62 237.43 L435.91 237.87 L436.22 238.29 L436.54 238.69 L436.89 239.06 L437.26 239.42 L437.64 239.74 L438.06 240.03 L438.50 240.29 L438.97 240.50 L439.47 240.50 L440.00 240.50 L440.57 240.50 L441.17 240.50 L441.81 240.50 L442.47 240.50 L443.15 240.50" stroke="#950000" stroke-width="1.22"/>
<path d="M120.69 240.50 L121.35 240.50 L121.99 240.47 L122.61 240.35 L123.20 240.15 L123.78 239.91 L124.33 239.69 L124.86 239.44 L125.37 239.16 L125.86 238.86 L126.33 238.54 L126.78 238.20 L127.22 237.84 L127.64 237.46 L128.04 237.06 L128.43 236.64 L128.80 236.21 L129.16 235.75 L129.50 235.29 L129.83 234.80 L130.15 234.31 L130.46 233.79 L130.75 233.27 L131.04 232.73 L131.31 232.19 L131.58 231.63 L131.83 231.06 L132.08 230.49 L132.32 229.90 L132.55 229.31 L132.78 228.71 L133.00 228.11 L133.22 227.49 L133.43 226.88 L133.64 226.26 L133.84 225.64 L134.05 225.02 L134.25 224.39 L134.45 223.77 L134.65 223.14 L134.84 222.52 L135.04 221.89 L135.24 221.27 L135.44 220.64 L135.63 220.02 L135.83 219.40 L136.03 218.77 L136.22 218.15 L136.42 217.53 L136.61 216.91 L136.81 216.29 L137.00 215.67 L137.20 215.05 L137.39 214.43 L137.58 213.81 L137.78 213.19 L137.97 212.57 L138.16 211.95 L138.36 211.33 L138.55 210.71 L138.74 210.10 L138.93 209.48 L139.13 208.86 L139.32 208.25 L139.51 207.63 L139.70 207.02 L139.89 206.40 L140.09 205.79 L140.28 205.17 L140.47 204.56 L140.66 203.94 L140.85 203.33 L141.04 202.72 L141.23 202.10 L141.43 201.49 L141.62 200.88 L141.81 200.27 L142.00 199.66 L142.19 199.05 L142.38 198.44 L142.57 197.83 L142.77 197.22 L142.96 196.61 L143.15 196.00 L143.34 195.39 L143.53 194.78 L143.73 194.17 L143.92 193.56 L144.11 192.96 L144.30 192.35 L144.50 191.74 L144.69 191.14 L144.88 190.53 L145.08 189.93 L145.27 189.32 L145.46 188.72 L145.66 188.11 L145.85 187.51 L146.05 186.90 L146.24 186.30 L146.44 185.70 L146.63 185.09 L146.83 184.49 L147.03 183.89 L147.22 183.29 L147.42 182.68 L147.62 182.08 L147.82 181.48 L148.01 180.88 L148.21 180.28 L148.41 179.68 L148.61 179.08 L148.81 178.48 L149.01 177.88 L149.21 177.29 L149.41 176.69 L149.62 176.09 L149.82 175.49 L150.02 174.89 L150.23 174.30 L150.43 173.70 L150.63 173.10 L150.84 172.51 L151.05 171.91 L151.25 171.32 L151.46 170.72 L151.67 170.13 L151.87 169.53 L152.08 168.94 L152.29 168.34 L152.50 167.75 L152.71 167.16 L152.93 166.56 L153.14 165.97 L153.35 165.38 L153.56 164.79 L153.78 164.20 L153.99 163.60 L154.21 163.01 L154.43 162.42 L154.64 161.83 L154.86 161.24 L155.08 160.65 L155.30 160.06 L155.52 159.47 L155.74 158.88 L155.97 158.30 L156.19 157.71 L156.41 157.12 L156.64 156.53 L156.87 155.94 L157.09 155.36 L157.32 154.77 L157.55 154.18 L157.78 153.60 L158.01 153.01 L158.24 152.43 L158.48 151.84 L158.71 151.26 L158.94 150.67 L159.18 150.09 L159.42 149.50 L159.65 148.92 L159.89 148.33 L160.13 147.75 L160.37 147.17 L160.62 146.58 L160.86 146.00 L161.10 145.42 L161.35 144.84 L161.60 144.26 L161.84 143.67 L162.09 143.09 L162.34 142.51 L162.60 141.93 L162.85 141.35 L163.10 140.77 L163.36 140.19 L163.61 139.61 L163.87 139.03 L164.13 138.45 L164.39 137.87 L164.65 137.30 L164.91 136.72 L165.18 136.14 L165.44 135.56 L165.71 134.98 L165.98 134.41 L166.25 133.83 L166.52 133.25 L166.79 132.68 L167.07 132.10 L167.34 131.53 L167.62 130.95 L167.90 130.38 L168.18 129.80 L168.46 129.23 L168.74 128.65 L169.02 128.08 L169.31 127.51 L169.60 126.94 L169.89 126.37 L170.18 125.80 L170.47 125.23 L170.77 124.66 L171.06 124.09 L171.36 123.53 L171.66 122.96 L171.96 122.40 L172.26 121.83 L172.57 121.27 L172.88 120.71 L173.19 120.15 L173.50 119.59 L173.81 119.03 L174.12 118.47 L174.44 117.91 L174.76 117.36 L175.08 116.80 L175.40 116.25 L175.73 115.70 L176.06 115.15 L176.39 114.60 L176.72 114.05 L177.05 113.51 L177.39 112.96 L177.73 112.42 L178.07 111.88 L178.41 111.34 L178.76 110.80 L179.10 110.26 L179.45 109.73 L179.80 109.19 L180.16 108.66 L180.52 108.13 L180.88 107.60 L181.24 107.08 L181.60 106.55 L181.97 106.03 L182.34 105.51 L182.71 104.99 L183.09 104.48 L183.46 103.96 L183.84 103.45 L184.22 102.94 L184.61 102.43 L185.00 101.92 L185.39 101.42 L185.78 100.92 L186.18 100.42 L186.58 99.92 L186.98 99.43 L187.38 98.94 L187.79 98.44 L188.20 97.96 L188.61 97.47 L189.03 96.99 L189.45 96.51 L189.87 96.03 L190.29 95.56 L190.72 95.08 L191.15 94.61 L191.59 94.15 L192.02 93.68 L192.46 93.22 L192.91 92.76 L193.35 92.31 L193.80 91.85 L194.25 91.40 L194.71 90.96 L195.16 90.51 L195.62 90.07 L196.09 89.63 L196.55 89.20 L197.02 88.76 L197.49 88.34 L197.96 87.91 L198.44 87.49 L198.92 87.07 L199.40 86.65 L199.89 86.24 L200.37 85.83 L200.86 85.42 L201.36 85.02 L201.85 84.62 L202.35 84.22 L202.85 83.83 L203.35 83.44 L203.86 83.06 L204.36 82.67 L204.87 82.30 L205.39 81.92 L205.90 81.55 L206.42 81.18 L206.94 80.82 L207.46 80.46 L207.99 80.10 L208.51 79.75 L209.04 79.40 L209.57 79.06 L210.11 78.72 L210.64 78.38 L211.18 78.05 L211.72 77.72 L212.27 77.40 L212.81 77.08 L213.36 76.76 L213.91 76.45 L214.46 76.14 L215.02 75.84 L215.57 75.54 L216.13 75.25 L216.69 74.96 L217.26 74.67 L217.82 74.39 L218.39 74.11 L218.96 73.84 L219.53 73.57 L220.10 73.31 L220.67 73.05 L221.25 72.80 L221.83 72.55 L222.41 72.30 L222.99 72.06 L223.58 71.82 L224.16 71.59 L224.75 71.36 L225.34 71.13 L225.93 70.91 L226.53 70.69 L227.12 70.48 L227.72 70.27 L228.31 70.07 L228.91 69.86 L229.51 69.67 L230.12 69.47 L230.72 69.28 L231.32 69.09 L231.93 68.91 L232.54 68.73 L233.15 68.55 L233.76 68.38 L234.37 68.21 L234.98 68.04 L235.59 67.88 L236.21 67.72 L236.83 67.56 L237.44 67.41 L238.06 67.25 L238.68 67.11 L239.30 66.96 L239.92 66.82 L240.54 66.68 L241.17 66.54 L241.79 66.41 L242.41 66.28 L243.04 66.15 L243.67 66.02 L244.29 65.90 L244.92 65.78 L245.55 65.66 L246.18 65.54 L246.81 65.43 L247.44 65.32 L248.07 65.21 L248.70 65.10 L249.33 65.00 L249.96 64.90 L250.59 64.80 L251.23 64.70 L251.86 64.60 L252.49 64.51 L253.13 64.41 L253.76 64.32 L254.39 64.23 L255.03 64.15 L255.66 64.06 L256.30 63.98 L256.93 63.90 L257.57 63.81 L258.20 63.74 L258.84 63.66 L259.47 63.58 L260.11 63.51 L260.74 63.43 L261.38 63.36 L262.01 63.29 L262.65 63.22 L263.28 63.15 L263.91 63.09 L264.55 63.02 L265.18 62.96 L265.82 62.90 L266.45 62.83 L267.09 62.78 L267.72 62.72 L268.36 62.66 L268.99 62.60 L269.62 62.55 L270.26 62.50 L270.89 62.44 L271.53 62.39 L272.16 62.34 L272.80 62.30 L273.43 62.25 L274.07 62.20 L274.70 62.16 L275.33 62.12 L275.97 62.08 L276.60 62.03 L277.24 62.00 L277.87 61.96 L278.51 61.92 L279.14 61.88 L279.78 61.85 L280.41 61.82 L281.04 61.78 L281.68 61.75 L282.31 61.72 L282.95 61.69 L283.58 61.67 L284.22 61.64 L284.85 61.61 L285.49 61.59 L286.12 61.57 L286.75 61.55 L287.39 61.52 L288.02 61.50 L288.66 61.49 L289.29 61.47 L289.93 61.45 L290.56 61.44 L291.20 61.42 L291.83 61.41 L292.47 61.39 L293.10 61.38 L293.74 61.37 L294.37 61.36 L295.01 61.35 L295.64 61.35 L296.28 61.34 L296.91 61.33 L297.55 61.33 L298.18 61.33 L298.82 61.32 L299.45 61.32 L300.09 61.32 L300.72 61.32 L301.36 61.32 L301.99 61.33 L302.63 61.33 L303.26 61.33 L303.90 61.34" stroke="#000095" stroke-width="1.20" stroke-dasharray="7.3 3.3" stroke-dashoffset="4.29"/>
<path d="M303.90 61.34 L304.53 61.34 L305.17 61.35 L305.80 61.36 L306.44 61.37 L307.07 61.38 L307.71 61.39 L308.34 61.41 L308.98 61.42 L309.61 61.44 L310.25 61.45 L310.88 61.47 L311.52 61.49 L312.16 61.51 L312.79 61.53 L313.43 61.56 L314.06 61.58 L314.70 61.61 L315.33 61.64 L315.97 61.67 L316.60 61.70 L317.24 61.73 L317.87 61.76 L318.50 61.79 L319.14 61.83 L319.77 61.87 L320.41 61.91 L321.04 61.95 L321.68 61.99 L322.31 62.03 L322.95 62.08 L323.58 62.12 L324.22 62.17 L324.85 62.22 L325.48 62.27 L326.12 62.32 L326.75 62.38 L327.39 62.44 L328.02 62.49 L328.65 62.55 L329.29 62.61 L329.92 62.68 L330.55 62.74 L331.19 62.81 L331.82 62.88 L332.45 62.95 L333.08 63.02 L333.72 63.09 L334.35 63.17 L334.98 63.24 L335.61 63.32 L336.25 63.40 L336.88 63.49 L337.51 63.57 L338.14 63.66 L338.77 63.75 L339.41 63.84 L340.04 63.93 L340.67 64.03 L341.30 64.12 L341.93 64.22 L342.56 64.32 L343.19 64.43 L343.82 64.53 L344.45 64.64 L345.08 64.75 L345.71 64.86 L346.34 64.97 L346.97 65.09 L347.60 65.20 L348.23 65.32 L348.86 65.45 L349.49 65.57 L350.12 65.70 L350.75 65.83 L351.37 65.96 L352.00 66.09 L352.63 66.23 L353.26 66.36 L353.88 66.50 L354.51 66.65 L355.14 66.79 L355.76 66.94 L356.39 67.09 L357.01 67.24 L357.64 67.40 L358.26 67.56 L358.88 67.72 L359.50 67.88 L360.13 68.05 L360.75 68.21 L361.37 68.38 L361.98 68.56 L362.60 68.74 L363.22 68.91 L363.83 69.10 L364.45 69.28 L365.06 69.47 L365.67 69.66 L366.28 69.85 L366.89 70.05 L367.50 70.25 L368.11 70.45 L368.71 70.66 L369.31 70.87 L369.92 71.08 L370.52 71.30 L371.12 71.51 L371.71 71.74 L372.31 71.96 L372.90 72.19 L373.49 72.42 L374.09 72.66 L374.67 72.89 L375.26 73.13 L375.84 73.38 L376.43 73.63 L377.01 73.88 L377.59 74.13 L378.16 74.39 L378.74 74.65 L379.31 74.92 L379.88 75.19 L380.44 75.46 L381.01 75.74 L381.57 76.02 L382.13 76.30 L382.69 76.59 L383.24 76.88 L383.80 77.18 L384.35 77.48 L384.89 77.78 L385.44 78.09 L385.98 78.40 L386.52 78.71 L387.05 79.03 L387.59 79.35 L388.12 79.68 L388.64 80.01 L389.17 80.34 L389.69 80.68 L390.21 81.02 L390.72 81.37 L391.23 81.72 L391.74 82.08 L392.25 82.43 L392.75 82.80 L393.25 83.16 L393.75 83.53 L394.25 83.90 L394.74 84.28 L395.23 84.66 L395.71 85.04 L396.20 85.43 L396.68 85.82 L397.16 86.22 L397.63 86.62 L398.10 87.02 L398.57 87.42 L399.04 87.83 L399.51 88.24 L399.97 88.66 L400.43 89.08 L400.88 89.50 L401.34 89.92 L401.79 90.35 L402.23 90.78 L402.68 91.22 L403.12 91.66 L403.56 92.10 L404.00 92.54 L404.44 92.99 L404.87 93.44 L405.30 93.89 L405.73 94.35 L406.15 94.81 L406.57 95.27 L406.99 95.73 L407.41 96.20 L407.83 96.67 L408.24 97.15 L408.65 97.62 L409.06 98.10 L409.46 98.58 L409.86 99.07 L410.26 99.55 L410.66 100.04 L411.06 100.53 L411.45 101.03 L411.84 101.53 L412.23 102.03 L412.62 102.53 L413.00 103.03 L413.38 103.54 L413.76 104.05 L414.14 104.56 L414.51 105.07 L414.89 105.59 L415.26 106.11 L415.62 106.63 L415.99 107.15 L416.35 107.68 L416.71 108.20 L417.07 108.73 L417.43 109.26 L417.78 109.80 L418.14 110.33 L418.49 110.87 L418.84 111.41 L419.18 111.95 L419.53 112.49 L419.87 113.03 L420.21 113.58 L420.55 114.13 L420.88 114.68 L421.22 115.23 L421.55 115.78 L421.88 116.34 L422.21 116.90 L422.53 117.45 L422.86 118.01 L423.18 118.58 L423.50 119.14 L423.82 119.70 L424.13 120.27 L424.45 120.84 L424.76 121.41 L425.07 121.98 L425.38 122.55 L425.68 123.12 L425.99 123.69 L426.29 124.27 L426.59 124.85 L426.89 125.42 L427.19 126.00 L427.49 126.58 L427.78 127.16 L428.07 127.75 L428.36 128.33 L428.65 128.91 L428.94 129.50 L429.22 130.08 L429.51 130.67 L429.79 131.26 L430.07 131.85 L430.35 132.44 L430.63 133.03 L430.90 133.62 L431.17 134.21 L431.45 134.80 L431.72 135.40 L431.99 135.99 L432.25 136.58 L432.52 137.18 L432.78 137.78 L433.05 138.37 L433.31 138.97 L433.57 139.57 L433.83 140.16 L434.08 140.76 L434.34 141.36 L434.59 141.96 L434.84 142.56 L435.09 143.16 L435.34 143.76 L435.59 144.36 L435.84 144.96 L436.08 145.56 L436.33 146.16 L436.57 146.76 L436.81 147.36 L437.05 147.96 L437.29 148.56 L437.53 149.16 L437.76 149.76 L438.00 150.36 L438.23 150.96 L438.46 151.56 L438.69 152.16 L438.92 152.76 L439.15 153.36 L439.38 153.96 L439.60 154.56 L439.83 155.15 L440.05 155.75 L440.28 156.35 L440.50 156.95 L440.72 157.55 L440.94 158.14 L441.15 158.74 L441.37 159.34 L441.59 159.94 L441.80 160.53 L442.02 161.13 L442.23 161.73 L442.44 162.32 L442.65 162.92 L442.86 163.52 L443.07 164.11 L443.28 164.71 L443.49 165.30 L443.70 165.90 L443.90 166.49 L444.11 167.09 L444.31 167.68 L444.52 168.28 L444.72 168.87 L444.92 169.47 L445.13 170.06 L445.33 170.66 L445.53 171.25 L445.73 171.85 L445.93 172.44 L446.13 173.03 L446.32 173.63 L446.52 174.22 L446.72 174.82 L446.91 175.41 L447.11 176.01 L447.31 176.60 L447.50 177.19 L447.70 177.79 L447.89 178.38 L448.08 178.98 L448.28 179.57 L448.47 180.16 L448.66 180.76 L448.86 181.35 L449.05 181.95 L449.24 182.54 L449.43 183.13 L449.62 183.73 L449.81 184.32 L450.01 184.92 L450.20 185.51 L450.39 186.11 L450.58 186.70 L450.77 187.29 L450.96 187.89 L451.15 188.48 L451.34 189.08 L451.53 189.67 L451.72 190.27 L451.91 190.86 L452.10 191.46 L452.29 192.05 L452.48 192.65 L452.67 193.25 L452.86 193.84 L453.05 194.44 L453.24 195.03 L453.43 195.63 L453.62 196.23 L453.81 196.82 L454.00 197.42 L454.20 198.02 L454.39 198.62 L454.58 199.21 L454.77 199.81 L454.96 200.41 L455.16 201.01 L455.35 201.60 L455.54 202.20 L455.74 202.80 L455.93 203.40 L456.13 204.00 L456.32 204.60 L456.52 205.20 L456.72 205.80 L456.91 206.40 L457.11 207.00 L457.31 207.60 L457.51 208.20 L457.70 208.80 L457.90 209.41 L458.10 210.01 L458.30 210.61 L458.51 211.21 L458.71 211.82 L458.91 212.42 L459.11 213.02 L459.32 213.63 L459.52 214.23 L459.73 214.84 L459.94 215.44 L460.14 216.05 L460.35 216.65 L460.56 217.26 L460.77 217.87 L460.98 218.47 L461.19 219.08 L461.41 219.69 L461.62 220.30 L461.83 220.90 L462.05 221.51 L462.27 222.12 L462.48 222.73 L462.70 223.34 L462.92 223.95 L463.14 224.57 L463.36 225.18 L463.59 225.79 L463.81 226.40 L464.04 227.02 L464.26 227.63 L464.49 228.24 L464.72 228.86 L464.95 229.47 L465.18 230.09 L465.42 230.70 L465.66 231.31 L465.90 231.91 L466.16 232.50 L466.42 233.09 L466.69 233.67 L466.96 234.23 L467.25 234.78 L467.56 235.32 L467.87 235.84 L468.20 236.35 L468.55 236.84 L468.91 237.30 L469.29 237.74 L469.68 238.17 L470.10 238.56 L470.54 238.93 L471.00 239.27 L471.48 239.58 L471.99 239.87 L472.52 240.11 L473.07 240.33 L473.65 240.50 L474.26 240.50 L474.89 240.50 L475.55 240.50 L476.23 240.50" stroke="#000095" stroke-width="1.20" stroke-dasharray="7.36 3.33" stroke-dashoffset="0.00"/>
</g>
<g stroke="#000" stroke-width="1.0" fill="none">
<path d="M98.00 240.50 v5.80 M98.00 10.70 v-5.80"/>
<path d="M111.37 240.50 v2.90 M111.37 10.70 v-2.90"/>
<path d="M124.73 240.50 v2.90 M124.73 10.70 v-2.90"/>
<path d="M138.10 240.50 v2.90 M138.10 10.70 v-2.90"/>
<path d="M151.47 240.50 v2.90 M151.47 10.70 v-2.90"/>
<path d="M164.83 240.50 v5.80 M164.83 10.70 v-5.80"/>
<path d="M178.20 240.50 v2.90 M178.20 10.70 v-2.90"/>
<path d="M191.57 240.50 v2.90 M191.57 10.70 v-2.90"/>
<path d="M204.93 240.50 v2.90 M204.93 10.70 v-2.90"/>
<path d="M218.30 240.50 v2.90 M218.30 10.70 v-2.90"/>
<path d="M231.67 240.50 v5.80 M231.67 10.70 v-5.80"/>
<path d="M245.03 240.50 v2.90 M245.03 10.70 v-2.90"/>
<path d="M258.40 240.50 v2.90 M258.40 10.70 v-2.90"/>
<path d="M271.77 240.50 v2.90 M271.77 10.70 v-2.90"/>
<path d="M285.13 240.50 v2.90 M285.13 10.70 v-2.90"/>
<path d="M298.50 240.50 v5.80 M298.50 10.70 v-5.80"/>
<path d="M311.87 240.50 v2.90 M311.87 10.70 v-2.90"/>
<path d="M325.23 240.50 v2.90 M325.23 10.70 v-2.90"/>
<path d="M338.60 240.50 v2.90 M338.60 10.70 v-2.90"/>
<path d="M351.97 240.50 v2.90 M351.97 10.70 v-2.90"/>
<path d="M365.33 240.50 v5.80 M365.33 10.70 v-5.80"/>
<path d="M378.70 240.50 v2.90 M378.70 10.70 v-2.90"/>
<path d="M392.07 240.50 v2.90 M392.07 10.70 v-2.90"/>
<path d="M405.43 240.50 v2.90 M405.43 10.70 v-2.90"/>
<path d="M418.80 240.50 v2.90 M418.80 10.70 v-2.90"/>
<path d="M432.17 240.50 v5.80 M432.17 10.70 v-5.80"/>
<path d="M445.53 240.50 v2.90 M445.53 10.70 v-2.90"/>
<path d="M458.90 240.50 v2.90 M458.90 10.70 v-2.90"/>
<path d="M472.27 240.50 v2.90 M472.27 10.70 v-2.90"/>
<path d="M485.63 240.50 v2.90 M485.63 10.70 v-2.90"/>
<path d="M499.00 240.50 v5.80 M499.00 10.70 v-5.80"/>
<path d="M98.00 240.50 h-5.80 M499.00 240.50 h5.80"/>
<path d="M98.00 222.82 h-2.90 M499.00 222.82 h2.90"/>
<path d="M98.00 205.15 h-2.90 M499.00 205.15 h2.90"/>
<path d="M98.00 187.47 h-2.90 M499.00 187.47 h2.90"/>
<path d="M98.00 169.79 h-2.90 M499.00 169.79 h2.90"/>
<path d="M98.00 152.12 h-5.80 M499.00 152.12 h5.80"/>
<path d="M98.00 134.44 h-2.90 M499.00 134.44 h2.90"/>
<path d="M98.00 116.76 h-2.90 M499.00 116.76 h2.90"/>
<path d="M98.00 99.08 h-2.90 M499.00 99.08 h2.90"/>
<path d="M98.00 81.41 h-2.90 M499.00 81.41 h2.90"/>
<path d="M98.00 63.73 h-5.80 M499.00 63.73 h5.80"/>
<path d="M98.00 46.05 h-2.90 M499.00 46.05 h2.90"/>
<path d="M98.00 28.38 h-2.90 M499.00 28.38 h2.90"/>
<path d="M98.00 10.70 h-2.90 M499.00 10.70 h2.90"/>
</g>
<g stroke="#000" fill="none">
<line x1="98.00" y1="10.10" x2="98.00" y2="241.10" stroke-width="1.6"/>
<line x1="97.20" y1="10.70" x2="499.50" y2="10.70" stroke-width="1.25"/>
<line x1="97.20" y1="240.50" x2="499.50" y2="240.50" stroke-width="1.25"/>
<line x1="499.00" y1="10.10" x2="499.00" y2="241.10" stroke-width="1.1"/>
</g>
<g fill="#006400" stroke="#006400" stroke-width="0.25" font-size="23.5">
<text x="97.80" y="271.3" text-anchor="middle">−30</text>
<text x="164.63" y="271.3" text-anchor="middle">−20</text>
<text x="231.47" y="271.3" text-anchor="middle">−10</text>
<text x="301.70" y="271.3" text-anchor="middle">0</text>
<text x="368.53" y="271.3" text-anchor="middle">10</text>
<text x="435.37" y="271.3" text-anchor="middle">20</text>
<text x="502.20" y="271.3" text-anchor="middle">30</text>
<text x="81.7" y="248.50" text-anchor="end">0</text>
<text x="81.7" y="160.12" text-anchor="end">100</text>
<text x="81.7" y="71.73" text-anchor="end">200</text>
</g>
<text y="298.2" fill="#006400" stroke="#006400" font-size="21.8"><tspan class="it" font-size="26" x="267.8" stroke-width="0.15">z</tspan><tspan x="284.9" stroke="none">(</tspan><tspan dx="-1.0">µ</tspan><tspan>m</tspan><tspan dx="1.2" stroke="none">)</tspan></text>
<g transform="translate(22.0 183.4) rotate(-90)">
<text x="0" y="0" fill="#006400" stroke="#006400" font-size="22.8"><tspan class="it" font-size="27" stroke-width="0.15">n</tspan><tspan class="it" font-size="25.5" dy="-2.0" dx="0.8" stroke="none">(</tspan><tspan class="it" font-size="27" dy="2.0" dx="0.7" stroke-width="0.15">z</tspan><tspan class="it" font-size="25.5" dy="-2.0" dx="0.7" stroke="none">)</tspan><tspan dy="2.0" dx="-0.6" stroke="none"> (</tspan><tspan>µ</tspan><tspan dx="0.2">m</tspan><tspan font-size="18.0" dy="-9.0" dx="-0.5">−</tspan><tspan font-size="18.0" dy="-2.2" dx="-0.1">1</tspan><tspan dy="11.2" dx="-1.0" stroke="none">)</tspan></text>
</g>
<g fill="#fff" stroke="none">
<rect x="225.50" y="268.50" width="5.45" height="4.00"/>
<rect x="233.56" y="268.50" width="4.94" height="4.00"/>
<rect x="356.50" y="268.50" width="4.73" height="4.00"/>
<rect x="363.71" y="268.50" width="4.79" height="4.00"/>
<rect x="43.50" y="157.50" width="4.73" height="4.00"/>
<rect x="50.71" y="157.50" width="4.79" height="4.00"/>
<rect x="8.50" y="74.50" width="4.00" height="3.86"/>
<rect x="8.50" y="80.26" width="4.00" height="4.24"/>
</g>
<text x="111.5" y="54.5" fill="#006400" stroke="#006400" font-size="25.9">ring</text>
<text x="297.2" y="224.1" fill="#ff0000" stroke="#ff0000" font-size="30.0" text-anchor="middle">(a)</text>
<text x="429.9" y="24.30" fill="#c04000" stroke="#c04000" stroke-width="0.2" font-size="17.0" text-anchor="end" word-spacing="0.5">N = 2000</text>
<line x1="440.70" y1="19.30" x2="487.00" y2="19.30" stroke="#c04000" stroke-width="1.40" stroke-dasharray="10.8 3.3 1.9 3.3 1.9 3.2" stroke-dashoffset="19.4"/>
<text x="429.9" y="41.70" fill="#006400" stroke="#006400" stroke-width="0.2" font-size="17.0" text-anchor="end">4000</text>
<line x1="440.70" y1="37.00" x2="488.70" y2="37.00" stroke="#006400" stroke-width="1.30" stroke-dasharray="10.6 3.3 2.0 3.35"/>
<text x="429.9" y="59.10" fill="#950000" stroke="#950000" stroke-width="0.2" font-size="17.0" text-anchor="end">6000</text>
<line x1="440.70" y1="54.30" x2="488.70" y2="54.30" stroke="#950000" stroke-width="1.22"/>
<text x="429.9" y="76.50" fill="#000095" stroke="#000095" stroke-width="0.2" font-size="17.0" text-anchor="end">8000</text>
<line x1="440.70" y1="72.00" x2="488.70" y2="72.00" stroke="#000095" stroke-width="1.20" stroke-dasharray="7.3 3.3"/>
</svg>
</body></html>
